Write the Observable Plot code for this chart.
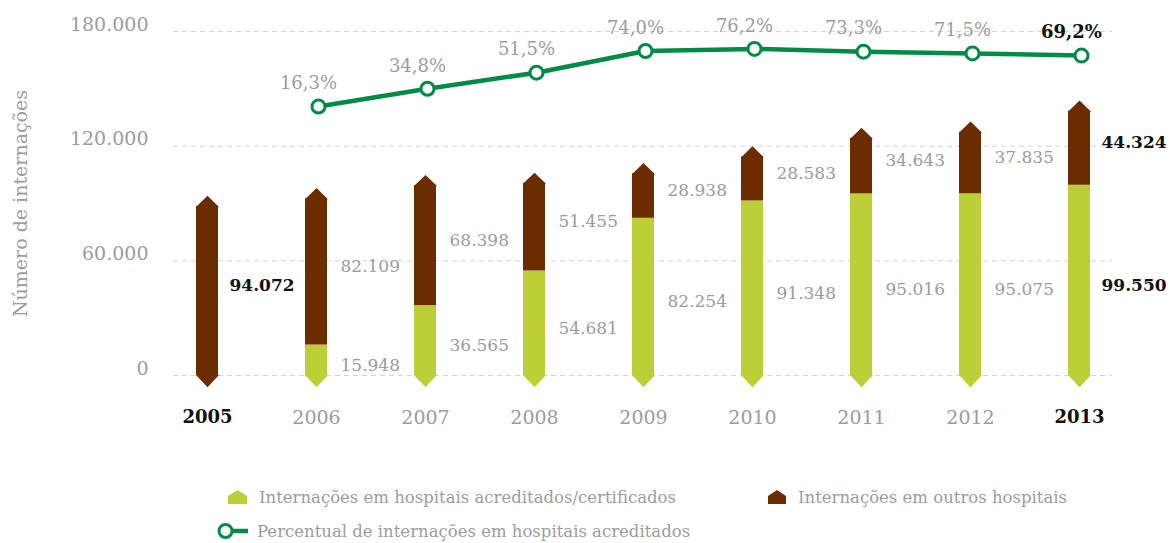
<!DOCTYPE html>
<html>
<head>
<meta charset="utf-8">
<script src="https://cdn.jsdelivr.net/npm/d3@7"></script>
<script src="https://cdn.jsdelivr.net/npm/@observablehq/plot@0.6"></script>
<style>
  body { margin: 0; background: #fff; font-family: "DejaVu Serif", serif; }
  #chart { width: 1173px; height: 470px; }
  .legend { position: relative; width: 1173px; height: 73px; color: #9c9c9c; font-size: 16.5px; font-family: "DejaVu Serif", serif; }
  .item { position: absolute; display: flex; align-items: center; white-space: nowrap; height: 20px; }
  .item svg { display: block; }
</style>
</head>
<body>
<div id="chart"></div>
<div class="legend">
  <div class="item" style="left:228px; top:17px;">
    <svg width="19" height="14" style="margin-right:12px"><path d="M9.5,0 L19,6 L19,14 L0,14 L0,6 Z" fill="#bccf36"/></svg>
    <span>Internações em hospitais acreditados/certificados</span>
  </div>
  <div class="item" style="left:768px; top:17px;">
    <svg width="18" height="14" style="margin-right:12px"><path d="M9,0 L18,6 L18,14 L0,14 L0,6 Z" fill="#6b2d00"/></svg>
    <span>Internações em outros hospitais</span>
  </div>
  <div class="item" style="left:217px; top:51px;">
    <svg width="32" height="18" style="margin-right:8px"><line x1="14" y1="9" x2="31" y2="9" stroke="#008c45" stroke-width="4.5"/><circle cx="8.5" cy="9" r="6.5" fill="#fff" stroke="#008c45" stroke-width="3"/></svg>
    <span>Percentual de internações em hospitais acreditados</span>
  </div>
</div>
<script>
// ---- data ----
const anos = [2005, 2006, 2007, 2008, 2009, 2010, 2011, 2012, 2013];
const acreditados = [0, 15948, 36565, 54681, 82254, 91348, 95016, 95075, 99550];
const outros = [94072, 82109, 68398, 51455, 28938, 28583, 34643, 37835, 44324];
const percentual = [null, 16.3, 34.8, 51.5, 74.0, 76.2, 73.3, 71.5, 69.2];
const yTicks = [0, 60000, 120000, 180000];
const destaque = [2005, 2013];
const tituloY = "Número de internações";

// ---- styles ----
const GREEN = "#bccf36";
const BROWN = "#6b2d00";
const LINE = "#008c45";
const GRAY = "#9c9c9c";
const DARK = "#111111";
const FONT = "DejaVu Serif";

const loc = d3.formatLocale({decimal: ",", thousands: ".", grouping: [3], currency: ["R$", ""]});
const fmtInt = loc.format(",d");
const fmt1 = loc.format(".1f");
const fmtPct = p => fmt1(p) + "%";

// percentual is drawn on its own band of the shared axis (0% → 132.500, 100% → 182.900)
const pctAxis = p => 132500 + 504 * p;

const rows = anos.map((ano, i) => ({
  ano,
  acred: acreditados[i],
  outros: outros[i],
  total: acreditados[i] + outros[i],
  pct: percentual[i],
  bold: destaque.includes(ano)
}));
const pctRows = rows.filter(d => d.pct != null);

// bar tip shapes (pixel geometry relative to anchor point)
const tipUp = {draw(ctx) { ctx.moveTo(0, 0); ctx.lineTo(11, 10.7); ctx.lineTo(11, 11.5); ctx.lineTo(-11, 11.5); ctx.lineTo(-11, 10.7); ctx.closePath(); }};
const tipDown = {draw(ctx) { ctx.moveTo(-11, -0.5); ctx.lineTo(11, -0.5); ctx.lineTo(11, 0); ctx.lineTo(0, 11.7); ctx.lineTo(-11, 0); ctx.closePath(); }};

const chart = Plot.plot({
  width: 1173,
  height: 470,
  marginLeft: 173,
  marginRight: 61,
  marginTop: 31,
  marginBottom: 95,
  style: {fontFamily: FONT, background: "#fff"},
  x: {type: "band", domain: anos, paddingInner: 0.8, paddingOuter: 0.176},
  y: {domain: [0, 180000]},
  marks: [
    Plot.ruleY(yTicks, {stroke: "#d4d4d4", strokeDasharray: "5,4", strokeWidth: 1}),
    Plot.axisY({ticks: yTicks, tickSize: 0, tickPadding: 25, tickFormat: fmtInt, fontSize: 19, fill: GRAY, dy: -7, label: null}),
    Plot.axisX({ticks: anos.filter(a => !destaque.includes(a)), tickSize: 0, tickPadding: 35, fontSize: 19, fill: GRAY, label: null, tickFormat: d => String(d)}),
    Plot.axisX({ticks: destaque, tickSize: 0, tickPadding: 35, fontSize: 18, fontWeight: "bold", fill: DARK, label: null, tickFormat: d => String(d)}),
    Plot.text([tituloY], {frameAnchor: "left", textAnchor: "middle", rotate: -90, dx: -153, fontSize: 19, fill: GRAY}),
    // bars
    Plot.rectY(rows.filter(d => d.acred > 0), {x: "ano", y1: () => 0, y2: "acred", fill: GREEN}),
    Plot.rectY(rows, {x: "ano", y1: "acred", y2: "total", fill: BROWN, insetTop: 10.7}),
    Plot.dot(rows, {x: "ano", y: "total", symbol: tipUp, fill: BROWN, stroke: null, r: 5}),
    Plot.dot(rows.filter(d => d.acred > 0), {x: "ano", y: () => 0, symbol: tipDown, fill: GREEN, stroke: null, r: 5}),
    Plot.dot(rows.filter(d => d.acred === 0), {x: "ano", y: () => 0, symbol: tipDown, fill: BROWN, stroke: null, r: 5}),
    // value labels
    Plot.text(rows.filter(d => !d.bold), {x: "ano", y: d => d.acred + d.outros / 2, text: d => fmtInt(d.outros), dx: 24, textAnchor: "start", fontSize: 17, fill: GRAY}),
    Plot.text(rows.filter(d => d.bold), {x: "ano", y: d => d.acred + d.outros / 2, text: d => fmtInt(d.outros), dx: 22, textAnchor: "start", fontSize: 17, fontWeight: "bold", fill: DARK}),
    Plot.text(rows.filter(d => d.acred > 0 && !d.bold), {x: "ano", y: d => d.acred / 2, text: d => fmtInt(d.acred), dx: 24, dy: 5, textAnchor: "start", fontSize: 17, fill: GRAY}),
    Plot.text(rows.filter(d => d.acred > 0 && d.bold), {x: "ano", y: d => d.acred / 2, text: d => fmtInt(d.acred), dx: 22, dy: 5, textAnchor: "start", fontSize: 17, fontWeight: "bold", fill: DARK}),
    // percentage line
    Plot.line(pctRows, {x: "ano", y: d => pctAxis(d.pct), stroke: LINE, strokeWidth: 4.5, dx: 2}),
    Plot.dot(pctRows, {x: "ano", y: d => pctAxis(d.pct), r: 6.5, fill: "#fff", stroke: LINE, strokeWidth: 3, dx: 2}),
    Plot.text(pctRows.filter(d => !d.bold), {x: "ano", y: d => pctAxis(d.pct), text: d => fmtPct(d.pct), dx: -8, dy: -23, fontSize: 18, fill: GRAY}),
    Plot.text(pctRows.filter(d => d.bold), {x: "ano", y: d => pctAxis(d.pct), text: d => fmtPct(d.pct), dx: -8, dy: -23, fontSize: 18, fontWeight: "bold", fill: DARK})
  ]
});
document.getElementById("chart").appendChild(chart);
</script>
</body>
</html>
